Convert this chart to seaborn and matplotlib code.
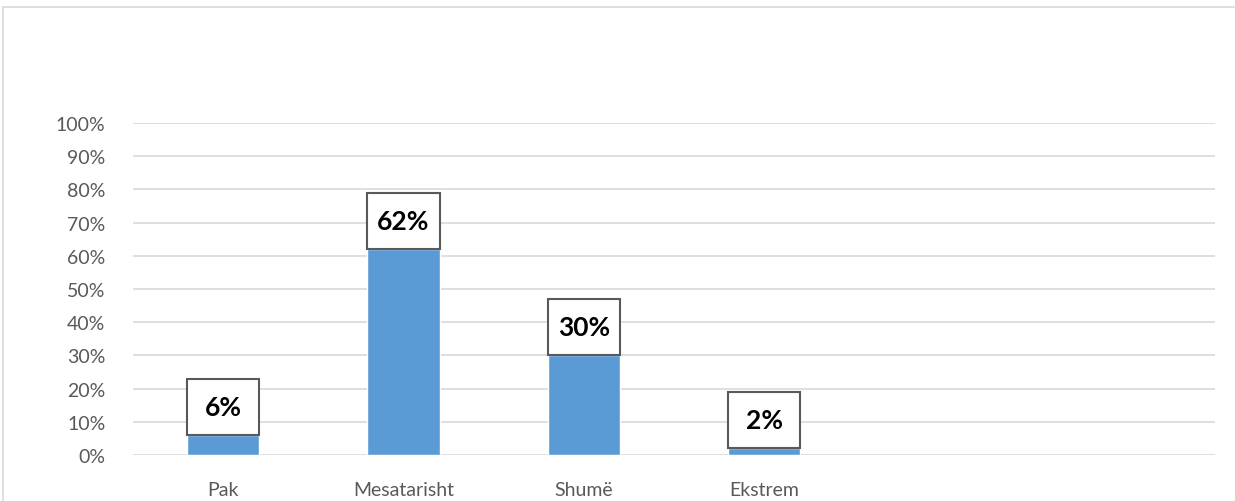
import matplotlib
matplotlib.use("Agg")
import matplotlib.pyplot as plt
from matplotlib.patches import Rectangle
import numpy as np
import pandas as pd
import seaborn as sns

# Survey answers (share of respondents, %)
categories = ["Pak", "Mesatarisht", "Shumë", "Ekstrem", " ", "  "]
values = [6, 62, 30, 2, np.nan, np.nan]
value_labels = ["6%", "62%", "30%", "2%", "", ""]
y_ticks = [0, 10, 20, 30, 40, 50, 60, 70, 80, 90, 100]

sns.set_theme(style="white")
plt.rcParams["font.family"] = ["Lato", "DejaVu Sans"]

bar_color = "#5B9BD5"
text_gray = "#595959"
grid_gray = "#D9D9D9"

fig = plt.figure(figsize=(12.35, 5.02), dpi=100)
fig.patch.set_facecolor("white")
# chart-area frame
fig.patches.append(Rectangle((3 / 1235, -0.05), 1.0, 1 - 8 / 502 + 0.05,
                             transform=fig.transFigure, fill=False,
                             edgecolor=grid_gray, linewidth=1.2))

ax = fig.add_axes([133 / 1235, 46 / 502, (1215 - 133) / 1235, 332 / 502])

df = pd.DataFrame({"cat": categories, "val": values})
sns.barplot(data=df, x="cat", y="val", order=categories, color=bar_color,
            width=0.4, saturation=1, ax=ax, errorbar=None)

ax.set_ylim(0, 100)
ax.set_yticks(y_ticks)
ax.set_yticklabels([f"{t}%" for t in y_ticks], color=text_gray, fontsize=14)
ax.yaxis.grid(True, color=grid_gray, linewidth=1.2)
ax.set_axisbelow(True)
ax.tick_params(axis="y", length=0, pad=20)
ax.tick_params(axis="x", length=0, pad=19, labelsize=14, labelcolor=text_gray)
ax.set_xlabel("")
ax.set_ylabel("")
for side in ["top", "right", "left", "bottom"]:
    ax.spines[side].set_visible(False)

# boxed value labels sitting on top of each bar
box_h = 17
for i, (v, lab) in enumerate(zip(values, value_labels)):
    if not lab:
        continue
    ax.add_patch(Rectangle((i - 0.2, v), 0.4, box_h, facecolor="white",
                           edgecolor=text_gray, linewidth=1.5, zorder=4,
                           clip_on=False))
    ax.text(i, v + box_h / 2, lab, ha="center", va="center",
            fontsize=19, fontweight="bold", color="black", zorder=5)

fig.savefig("out.png", dpi=100, facecolor="white")
